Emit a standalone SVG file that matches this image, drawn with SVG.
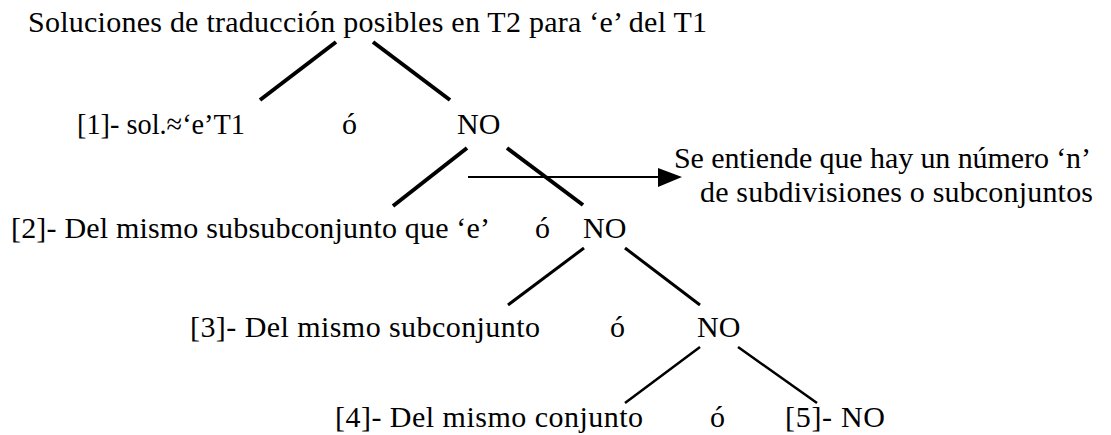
<svg xmlns="http://www.w3.org/2000/svg" width="1111" height="435" viewBox="0 0 1111 435">
<style>
text{font-family:"Liberation Serif","Times New Roman",serif;font-size:30px;fill:#000}
.b4{stroke:#000;stroke-width:4;fill:none}
.b3{stroke:#000;stroke-width:3;fill:none}
.b2{stroke:#000;stroke-width:2.5;fill:none}
.ar{stroke:#000;stroke-width:2;fill:none}
</style>
<rect width="1111" height="435" fill="#fff"/>
<g id="connectors">
<line class="b4" x1="336" y1="42" x2="260" y2="100"/>
<line class="b4" x1="373" y1="42" x2="450" y2="100"/>
<line class="b4" x1="467" y1="148" x2="393" y2="206"/>
<line class="b4" x1="507" y1="148" x2="583" y2="205"/>
<line class="b3" x1="584" y1="248" x2="508" y2="305"/>
<line class="b3" x1="625" y1="248" x2="700" y2="305"/>
<line class="b2" x1="700" y1="347" x2="625" y2="403"/>
<line class="b2" x1="738" y1="347" x2="817" y2="403"/>
<line class="ar" x1="468" y1="177" x2="662" y2="177"/>
<path d="M658,168L682,177L658,187z" fill="#000"/>
</g>
<g id="root"><text x="28" y="32" textLength="679" lengthAdjust="spacing">Soluciones de traducción posibles en T2 para ‘e’ del T1</text></g>
<g id="n1"><text x="77" y="134" textLength="168" lengthAdjust="spacingAndGlyphs">[1]- sol.≈‘e’T1</text></g>
<g id="o1"><text x="342" y="134">ó</text></g>
<g id="no1"><text x="457" y="134">NO</text></g>
<g id="note"><text x="674" y="168" textLength="417" lengthAdjust="spacing">Se entiende que hay un número ‘n’</text><text x="700" y="202" textLength="393" lengthAdjust="spacing">de subdivisiones o subconjuntos</text></g>
<g id="n2"><text x="11" y="238" textLength="479" lengthAdjust="spacing">[2]- Del mismo subsubconjunto que ‘e’</text></g>
<g id="o2"><text x="535" y="238">ó</text></g>
<g id="no2"><text x="583" y="238">NO</text></g>
<g id="n3"><text x="190" y="337" textLength="350" lengthAdjust="spacing">[3]- Del mismo subconjunto</text></g>
<g id="o3"><text x="610" y="337">ó</text></g>
<g id="no3"><text x="697" y="337">NO</text></g>
<g id="n4"><text x="335" y="427" textLength="308" lengthAdjust="spacing">[4]- Del mismo conjunto</text></g>
<g id="o4"><text x="710" y="427">ó</text></g>
<g id="n5"><text x="785" y="427" textLength="100" lengthAdjust="spacing">[5]- NO</text></g>
</svg>
